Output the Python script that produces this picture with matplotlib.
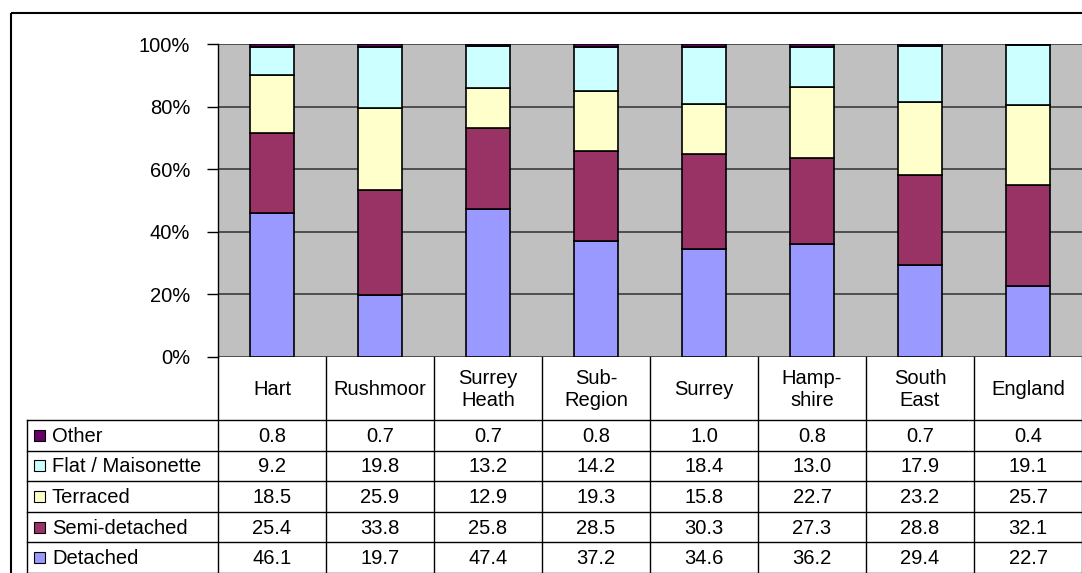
import matplotlib
matplotlib.use("Agg")
import matplotlib.pyplot as plt
import numpy as np
from matplotlib.patches import Rectangle

plt.rcParams['font.family'] = ['Liberation Sans', 'DejaVu Sans']

categories = ["Hart", "Rushmoor", "Surrey\nHeath", "Sub-\nRegion", "Surrey",
              "Hamp-\nshire", "South\nEast", "England"]
series_names = ["Other", "Flat / Maisonette", "Terraced", "Semi-detached", "Detached"]
other = [0.8, 0.7, 0.7, 0.8, 1.0, 0.8, 0.7, 0.4]
flat = [9.2, 19.8, 13.2, 14.2, 18.4, 13.0, 17.9, 19.1]
terraced = [18.5, 25.9, 12.9, 19.3, 15.8, 22.7, 23.2, 25.7]
semi = [25.4, 33.8, 25.8, 28.5, 30.3, 27.3, 28.8, 32.1]
detached = [46.1, 19.7, 47.4, 37.2, 34.6, 36.2, 29.4, 22.7]
yticks = [0, 20, 40, 60, 80, 100]
ytick_labels = ["0%", "20%", "40%", "60%", "80%", "100%"]

colors = {"Detached": "#9999FF", "Semi-detached": "#993366", "Terraced": "#FFFFCC",
          "Flat / Maisonette": "#CCFFFF", "Other": "#660066"}

FS = 14.5
W, H = 1082, 573
fig = plt.figure(figsize=(W / 100, H / 100), dpi=100)
fig.patch.set_facecolor("white")

# plot area
px0, px1, py_top, py_bot = 218, 1082, 44, 357
ax = fig.add_axes([px0 / W, (H - py_bot) / H, (px1 - px0) / W, (py_bot - py_top) / H])
ax.set_facecolor("#C0C0C0")

stack_order = [("Detached", detached), ("Semi-detached", semi), ("Terraced", terraced),
               ("Flat / Maisonette", flat), ("Other", other)]
x = np.arange(len(categories))
bottom = np.zeros(len(categories))
for name, vals in stack_order:
    v = np.array(vals, dtype=float)
    ax.bar(x, v, bottom=bottom, width=0.41, color=colors[name], edgecolor="black",
           linewidth=1.2, zorder=3)
    bottom += v

ax.set_xlim(-0.5, len(categories) - 0.5)
ax.set_ylim(0, 100)
ax.set_yticks(yticks)
ax.set_yticklabels(ytick_labels, fontsize=FS)
ax.set_xticks([])
for y in yticks:
    ax.axhline(y, color="#303030", linewidth=1.1, zorder=1)
for s in ["top", "right", "bottom"]:
    ax.spines[s].set_visible(False)
ax.spines["left"].set_color("black")
ax.spines["left"].set_linewidth(1.0)
ax.tick_params(axis="y", direction="out", length=8, width=1, pad=12, colors="black")

# table overlay in pixel coordinates
tax = fig.add_axes([0, 0, 1, 1])
tax.set_xlim(0, W)
tax.set_ylim(H, 0)
tax.axis("off")
tax.patch.set_alpha(0)

# outer chart border
tax.add_patch(Rectangle((11, 13), W + 20, H + 20, fill=False, edgecolor="black",
                        linewidth=1.5, clip_on=True))

col_edges = np.linspace(px0, px1, len(categories) + 1)
label_left = 27
header_bot = 420
row_h = (H - header_bot) / len(series_names)
row_edges = [header_bot + i * row_h for i in range(len(series_names) + 1)]

lc = "black"
lw = 1.0
for xe in col_edges:
    tax.plot([xe, xe], [py_bot, H], color=lc, linewidth=lw)
tax.plot([label_left, label_left], [header_bot, H], color=lc, linewidth=lw)
for ye in row_edges:
    tax.plot([label_left, px1], [ye, ye], color=lc, linewidth=lw)

for i, c in enumerate(categories):
    cx = (col_edges[i] + col_edges[i + 1]) / 2
    tax.text(cx, (py_bot + header_bot) / 2 + 1, c, ha="center", va="center",
             fontsize=FS, linespacing=1.15)

data_rows = {"Other": other, "Flat / Maisonette": flat, "Terraced": terraced,
             "Semi-detached": semi, "Detached": detached}
for r, name in enumerate(series_names):
    cy = (row_edges[r] + row_edges[r + 1]) / 2
    tax.add_patch(Rectangle((34, cy - 5.5), 11, 11, facecolor=colors[name],
                            edgecolor="black", linewidth=0.8))
    tax.text(52, cy + 1, name, ha="left", va="center", fontsize=FS)
    for i, v in enumerate(data_rows[name]):
        cx = (col_edges[i] + col_edges[i + 1]) / 2
        tax.text(cx, cy + 1, f"{v:.1f}", ha="center", va="center", fontsize=FS)

fig.savefig("out.png", dpi=100)
